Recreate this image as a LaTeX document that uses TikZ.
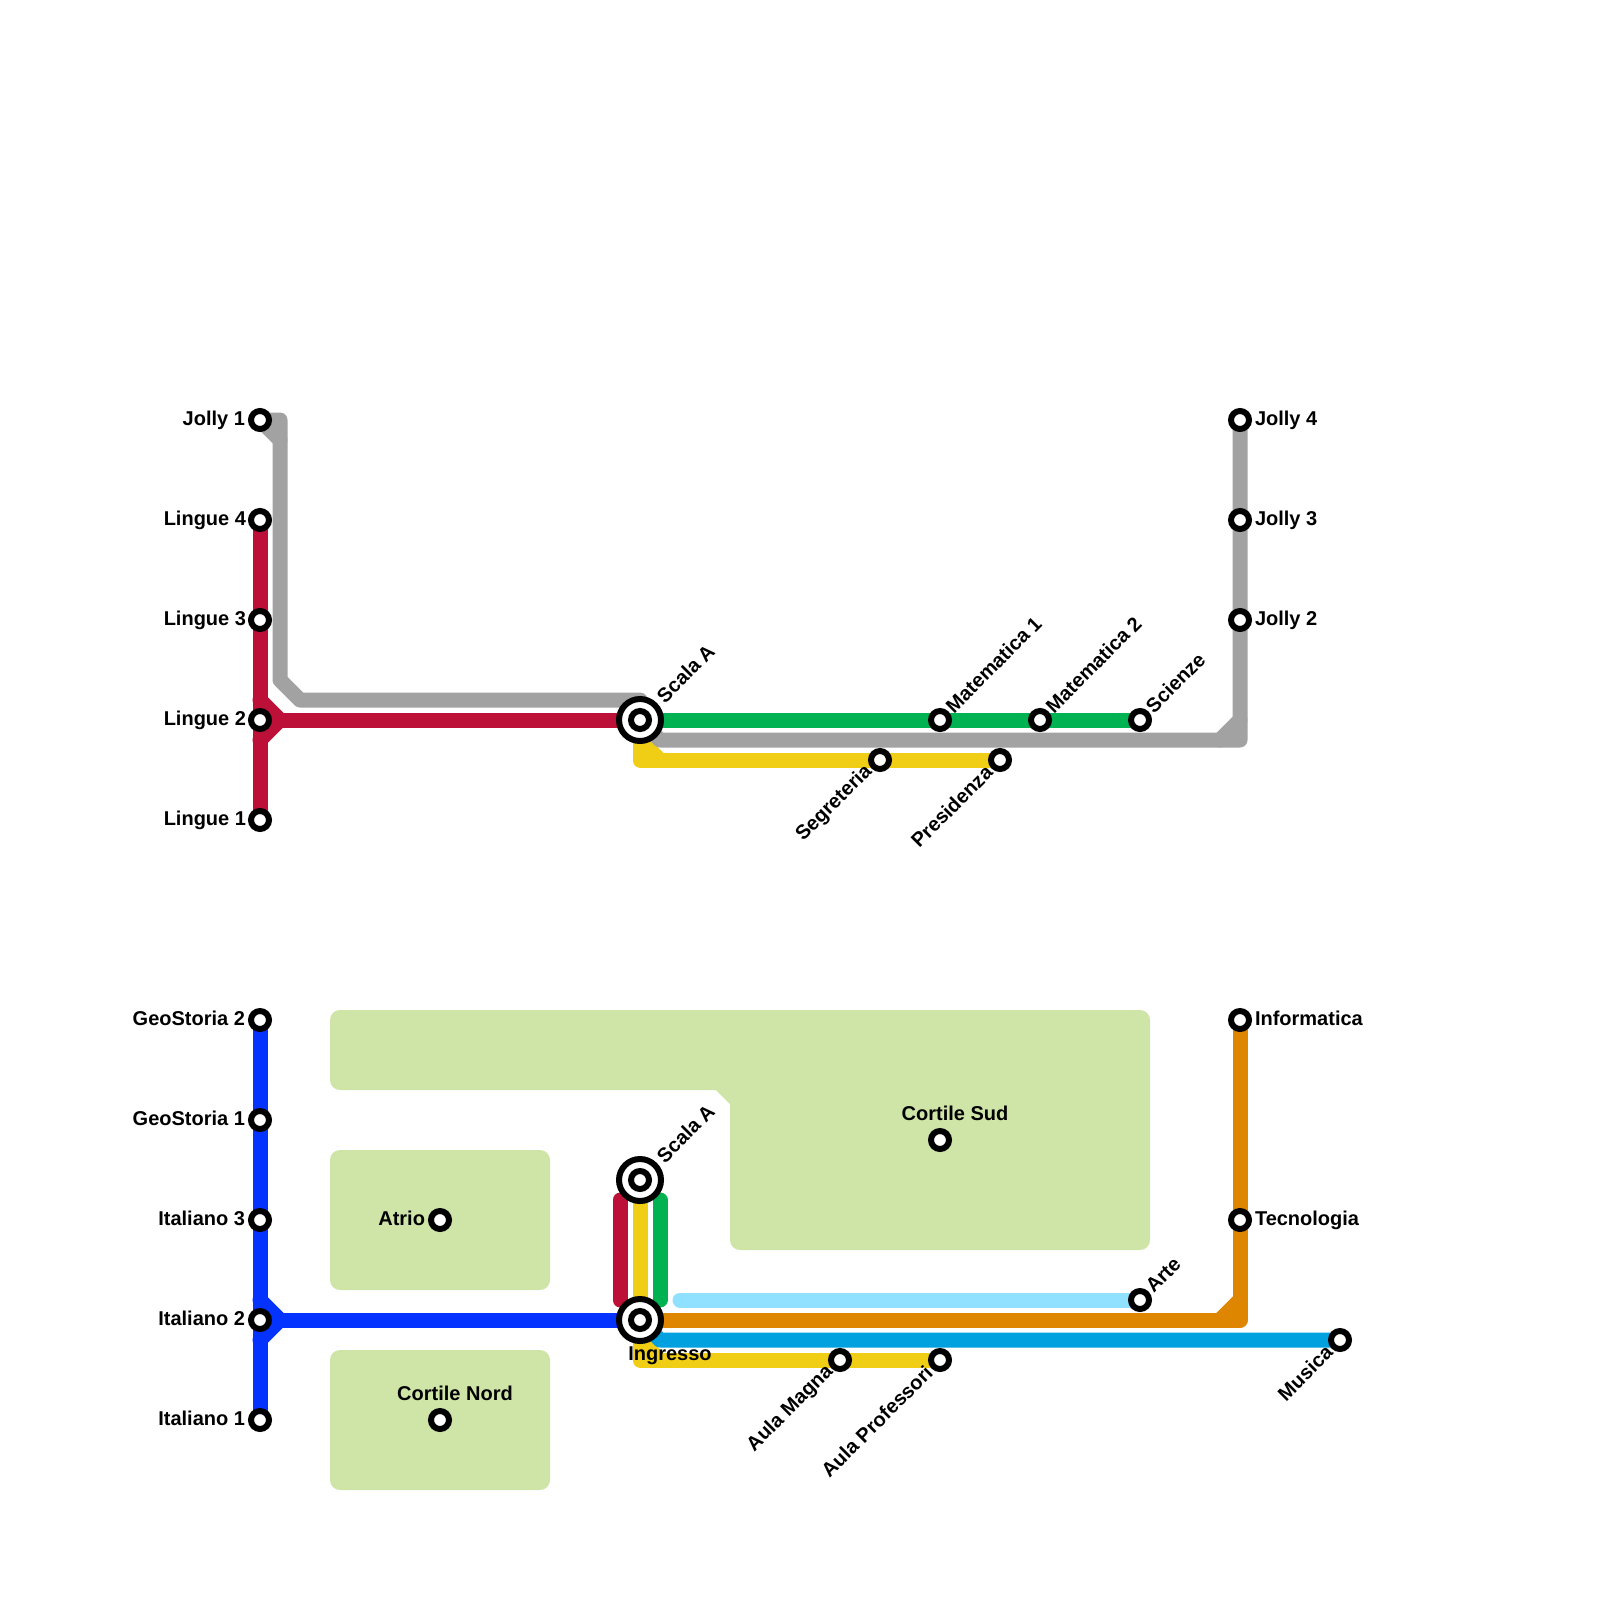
\documentclass[tikz,border=0pt]{standalone}
\usepackage{fontspec}
\setmainfont{Liberation Sans}
\usetikzlibrary{backgrounds}
\definecolor{lgray}{HTML}{A2A2A2}
\definecolor{lred}{HTML}{BD1038}
\definecolor{lgreen}{HTML}{00B251}
\definecolor{lyellow}{HTML}{F0CE15}
\definecolor{lblue}{HTML}{0433FF}
\definecolor{lorange}{HTML}{DF8600}
\definecolor{lcyan}{HTML}{00A1DE}
\definecolor{lsky}{HTML}{8FE1FF}
\definecolor{larea}{HTML}{CFE4A7}
\tikzset{
  stn/.style={circle,draw=black,fill=white,line width=6pt,minimum size=18pt,inner sep=0pt,outer sep=0pt},
  hub/.style={circle,draw=black,fill=white,line width=6pt,minimum size=42pt,inner sep=0pt,outer sep=0pt},
  txt/.style={font=\fontsize{20}{22}\selectfont\bfseries,inner sep=0pt,outer sep=0pt,text=black},
  lL/.style={txt,anchor=east},
  lR/.style={txt,anchor=west},
  lUp/.style={txt,anchor=west,rotate=45},
  lDn/.style={txt,anchor=east,rotate=45},
  metro/.style={line width=15pt,line cap=round,line join=round},
  areafill/.style={fill=larea,draw=none},
}
\begin{document}
\begin{tikzpicture}[x=1pt,y=-1pt]
\useasboundingbox (0,0) rectangle (1600,1600);
% stations, upper map
\node[stn] (j1) at (260,420) {};
\node[stn] (l4) at (260,520) {};
\node[stn] (l3) at (260,620) {};
\node[stn] (l2) at (260,720) {};
\node[stn] (l1) at (260,820) {};
\node[hub] (saH) at (640,720) {};
\node[stn] (sa) at (640,720) {};
\node[stn] (m1) at (940,720) {};
\node[stn] (m2) at (1040,720) {};
\node[stn] (sc) at (1140,720) {};
\node[stn] (se) at (880,760) {};
\node[stn] (pr) at (1000,760) {};
\node[stn] (j4) at (1240,420) {};
\node[stn] (j3) at (1240,520) {};
\node[stn] (j2) at (1240,620) {};
% stations, lower map
\node[stn] (g2) at (260,1020) {};
\node[stn] (g1) at (260,1120) {};
\node[stn] (i3) at (260,1220) {};
\node[stn] (i2) at (260,1320) {};
\node[stn] (i1) at (260,1420) {};
\node[hub] (sbH) at (640,1180) {};
\node[stn] (sb) at (640,1180) {};
\node[hub] (inH) at (640,1320) {};
\node[stn] (in) at (640,1320) {};
\node[stn] (at) at (440,1220) {};
\node[stn] (cn) at (440,1420) {};
\node[stn] (cs) at (940,1140) {};
\node[stn] (ar) at (1140,1300) {};
\node[stn] (inf) at (1240,1020) {};
\node[stn] (te) at (1240,1220) {};
\node[stn] (mu) at (1340,1340) {};
\node[stn] (am) at (840,1360) {};
\node[stn] (ap) at (940,1360) {};
% free points
\coordinate (a) at (280,420); \coordinate (b) at (280,680); \coordinate (c) at (300,700);
\coordinate (d) at (640,700); \coordinate (e) at (280,440);
\coordinate (f) at (260,700); \coordinate (g) at (280,720); \coordinate (h) at (260,740);
\coordinate (k) at (660,740); \coordinate (n) at (1240,740); \coordinate (o) at (1220,740); \coordinate (p) at (1240,720);
\coordinate (q) at (640,760); \coordinate (q2) at (640,740); \coordinate (r) at (660,760);
\coordinate (b1) at (260,1300); \coordinate (b2) at (280,1320); \coordinate (b3) at (260,1340);
\coordinate (t1) at (620,1200); \coordinate (t2) at (620,1300);
\coordinate (u1) at (660,1200); \coordinate (u2) at (660,1300);
\coordinate (s1) at (680,1300);
\coordinate (v1) at (1240,1320); \coordinate (v2) at (1220,1320); \coordinate (v3) at (1240,1300);
\coordinate (w1) at (660,1340);
\coordinate (y1) at (640,1360); \coordinate (y2) at (640,1340); \coordinate (y3) at (660,1360);
\begin{scope}[on background layer]
  \fill[white] (0,0) rectangle (1600,1600);
  % areas
  \fill[areafill,rounded corners=10pt] (330,1150) rectangle (550,1290);
  \fill[areafill,rounded corners=10pt] (330,1350) rectangle (550,1490);
  \fill[areafill,rounded corners=10pt] (330,1010) -- (1150,1010) -- (1150,1250) -- (730,1250)
     [sharp corners] -- (730,1104) -- (716,1090) [rounded corners=10pt] -- (330,1090) -- cycle;
  % upper lines
  \draw[metro,lgray] (j1.center) -- (a) -- (b) -- (c) -- (d) -- (sa.center);
  \draw[metro,lgray] (j1.center) -- (e);
  \draw[metro,lred] (l4.center) -- (l1.center);
  \draw[metro,lred] (l2.center) -- (sa.center);
  \draw[metro,lred] (f) -- (g) -- (h);
  \draw[metro,lyellow] (sa.center) -- (q) -- (pr.center);
  \draw[metro,lyellow] (q2) -- (r);
  \draw[metro,lgreen] (sa.center) -- (sc.center);
  \draw[metro,lgray] (sa.center) -- (k) -- (n) -- (j4.center);
  \draw[metro,lgray] (o) -- (p);
  % lower lines
  \draw[metro,lblue] (g2.center) -- (i1.center);
  \draw[metro,lblue] (i2.center) -- (in.center);
  \draw[metro,lblue] (b1) -- (b2) -- (b3);
  \draw[metro,lred] (t1) -- (t2);
  \draw[metro,lyellow] (sb.center) -- (in.center);
  \draw[metro,lgreen] (u1) -- (u2);
  \draw[metro,lsky] (s1) -- (ar.center);
  \draw[metro,lyellow] (in.center) -- (y1) -- (ap.center);
  \draw[metro,lyellow] (y2) -- (y3);
  \draw[metro,lcyan] (in.center) -- (w1) -- (mu.center);
  \draw[metro,lorange] (in.center) -- (v1) -- (inf.center);
  \draw[metro,lorange] (v2) -- (v3);
\end{scope}
% labels
\node[lL] (tj1) at (245,420) {Jolly 1};
\node[lL] (tl4) at (246,520) {Lingue 4};
\node[lL] (tl3) at (246,620) {Lingue 3};
\node[lL] (tl2) at (246,720) {Lingue 2};
\node[lL] (tl1) at (246,820) {Lingue 1};
\node[lR] (tj4) at (1255,420) {Jolly 4};
\node[lR] (tj3) at (1255,520) {Jolly 3};
\node[lR] (tj2) at (1255,620) {Jolly 2};
\node[lUp] (tsa) at (660,699) {Scala A};
\node[lUp] (tm1) at (949,709) {Matematica 1};
\node[lUp] (tm2) at (1049,709) {Matematica 2};
\node[lUp] (tsc) at (1149,709) {Scienze};
\node[lDn] (tse) at (869,769) {Segreteria};
\node[lDn] (tpr) at (989,769) {Presidenza};
\node[lL] (tg2) at (245,1018) {GeoStoria 2};
\node[lL] (tg1) at (245,1118) {GeoStoria 1};
\node[lL] (ti3) at (245,1218) {Italiano 3};
\node[lL] (ti2) at (245,1318) {Italiano 2};
\node[lL] (ti1) at (245,1418) {Italiano 1};
\node[lR] (tinf) at (1255,1018) {Informatica};
\node[lR] (tte) at (1255,1220) {Tecnologia};
\node[lUp] (tsb) at (660,1159) {Scala A};
\node[lUp] (tar) at (1149,1289) {Arte};
\node[lDn] (tmu) at (1329,1349) {Musica};
\node[lDn] (tam) at (830,1369) {Aula Magna};
\node[lDn] (tap) at (929,1369) {Aula Professori};
\node[lL] (tat) at (425,1218) {Atrio};
\node[txt] (tcn) at (455,1393) {Cortile Nord};
\node[txt] (tcs) at (955,1113) {Cortile Sud};
\node[txt] (tin) at (670,1356) {Ingresso};
\end{tikzpicture}
\end{document}
